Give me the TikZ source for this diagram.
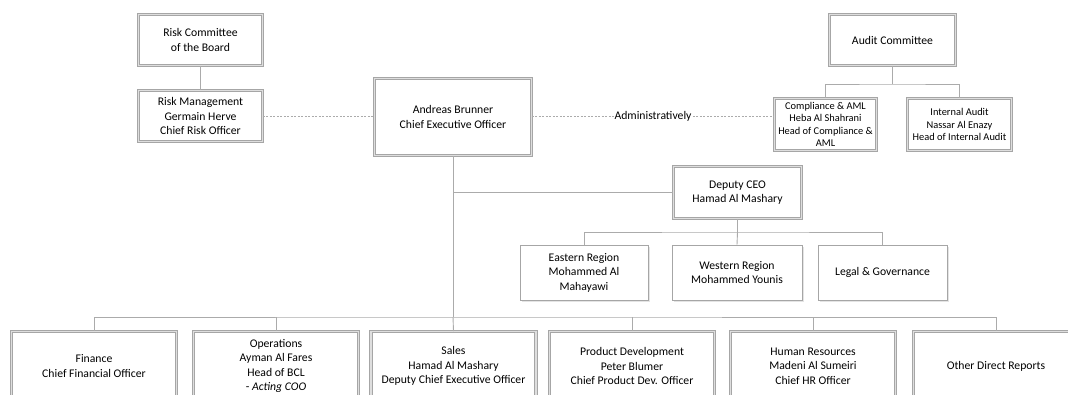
\documentclass[tikz,border=0pt]{standalone}
\usepackage{fontspec}
\setmainfont{Carlito}
\usetikzlibrary{shadows}
\definecolor{boxline}{HTML}{A6A6A6}
\definecolor{boxband}{HTML}{DEDEDE}
\definecolor{linkline}{HTML}{ABABAB}
\definecolor{shade}{HTML}{E4E4E4}
\begin{document}
\begin{tikzpicture}[x=1pt,y=-1pt,
  base/.style={rectangle, align=center, inner sep=0pt, fill=white,
    font=\fontsize{11.7}{14.5}\selectfont,
    drop shadow={shadow xshift=1.6pt, shadow yshift=-1.6pt, fill=shade, opacity=1}},
  dbox/.style={base, draw=boxline, line width=0.8pt, double=boxband, double distance=1.8pt},
  sbox/.style={base, draw=boxline, line width=0.9pt},
  small/.style={font=\fontsize{10.4}{12.4}\selectfont},
  link/.style={draw=linkline, line width=0.9pt},
  dotlink/.style={draw=linkline, line width=0.7pt, dash pattern=on 2pt off 1.5pt}
]
\useasboundingbox (0,0) rectangle (1068,394);
\fill[white] (0,0) rectangle (1068,394);
\clip (0,0) rectangle (1068,394);

% board committees and CEO
\node[dbox, minimum width=124pt, minimum height=51pt] (rc) at (200.5,40) {Risk Committee\\of the Board};
\node[dbox, minimum width=124pt, minimum height=51pt] (rm) at (200.5,116) {Risk Management\\Germain Herve\\Chief Risk Officer};
\node[dbox, minimum width=157pt, minimum height=77pt] (ceo) at (453,117) {Andreas Brunner\\Chief Executive Officer};
\node[dbox, minimum width=126pt, minimum height=51pt] (ac) at (892.5,40) {Audit Committee};
\node[dbox, small, minimum width=102pt, minimum height=52pt] (comp) at (825.5,124.5) {Compliance \& AML\\Heba Al Shahrani\\Head of Compliance \&\\AML};
\node[dbox, small, minimum width=104pt, minimum height=52pt] (ia) at (959.5,124.5) {Internal Audit\\Nassar Al Enazy\\Head of Internal Audit};

% deputy CEO and regions
\node[dbox, minimum width=128pt, minimum height=52pt] (dep) at (737.5,192.5) {Deputy CEO\\Hamad Al Mashary};
\node[sbox, minimum width=128pt, minimum height=55pt] (east) at (584,272.5) {Eastern Region\\Mohammed Al\\Mahayawi};
\node[sbox, minimum width=130pt, minimum height=55pt] (west) at (737,272.5) {Western Region\\Mohammed Younis};
\node[sbox, minimum width=129pt, minimum height=55pt] (legal) at (882.5,272.5) {Legal \& Governance};

% direct reports
\node[dbox, minimum width=165pt, minimum height=69pt] (fin) at (94,366) {Finance\\Chief Financial Officer};
\node[dbox, minimum width=165pt, minimum height=69pt] (ops) at (276,366) {Operations\\Ayman Al Fares\\Head of BCL\\- \textit{Acting COO}};
\node[dbox, minimum width=165pt, minimum height=69pt] (sales) at (453.5,366) {Sales\\Hamad Al Mashary\\Deputy Chief Executive Officer};
\node[dbox, minimum width=165pt, minimum height=69pt] (prod) at (632,366) {Product Development\\Peter Blumer\\Chief Product Dev. Officer};
\node[dbox, minimum width=165pt, minimum height=69pt] (hr) at (813,366) {Human Resources\\Madeni Al Sumeiri\\Chief HR Officer};
\node[dbox, minimum width=165pt, minimum height=69pt] (other) at (996,366) {Other Direct Reports};

% junction points on the connector bars
\coordinate (auditbar) at (892.5,84);
\coordinate (deptap) at (453,192.5);
\coordinate (regbar) at (737.5,232);
\coordinate (repbar) at (453,317);

% solid reporting lines
\draw[link] (rc.south) -- (rm.north);
\draw[link] (ac.south) -- (auditbar);
\draw[link] (comp.north) |- (auditbar) -| (ia.north);
\draw[link] (ceo.south) -- (repbar);
\draw[link] (deptap) -- (dep.west);
\draw[link] (dep.south) -- (regbar);
\draw[link] (east.north) |- (regbar) -| (legal.north);
\draw[link] (west.north) -- (regbar);
\draw[link] (fin.north) |- (repbar) -| (other.north);
\draw[link] (ops.north) -- (ops.north |- repbar);
\draw[link] (sales.north) -- (repbar);
\draw[link] (prod.north) -- (prod.north |- repbar);
\draw[link] (hr.north) -- (hr.north |- repbar);

% dotted administrative lines
\draw[dotlink] (rm.east) -- (rm.east -| ceo.west);
\draw[dotlink] (ceo.east |- rm.east) -- node[fill=white, inner sep=1pt, font=\fontsize{11.7}{14.5}\selectfont] {Administratively} (comp.west |- rm.east);
\end{tikzpicture}
\end{document}
